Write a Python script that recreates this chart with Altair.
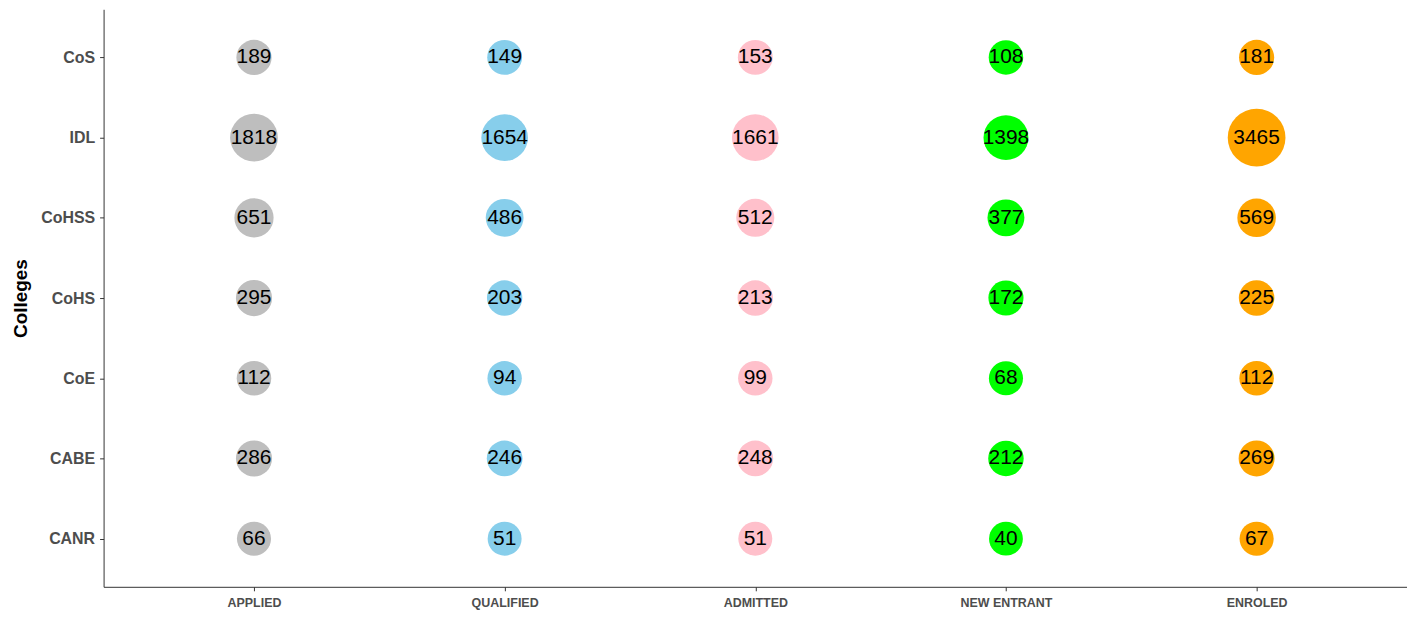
import altair as alt
import pandas as pd

colleges = ["CoS", "IDL", "CoHSS", "CoHS", "CoE", "CABE", "CANR"]
stages = ["APPLIED", "QUALIFIED", "ADMITTED", "NEW ENTRANT", "ENROLED"]
applied = [189, 1818, 651, 295, 112, 286, 66]
qualified = [149, 1654, 486, 203, 94, 246, 51]
admitted = [153, 1661, 512, 213, 99, 248, 51]
new_entrant = [108, 1398, 377, 172, 68, 212, 40]
enroled = [181, 3465, 569, 225, 112, 269, 67]
colors = ["#BEBEBE", "#87CEEB", "#FFC0CB", "#00FF00", "#FFA500"]

rows = []
for stage, vals in zip(stages, [applied, qualified, admitted, new_entrant, enroled]):
    for c, v in zip(colleges, vals):
        rows.append({"Stage": stage, "College": c, "Value": v})
df = pd.DataFrame(rows)

x = alt.X("Stage:N", sort=stages, scale=alt.Scale(type="point", padding=0.6),
          axis=alt.Axis(title=None, labelFontSize=12.5, labelFontWeight="bold",
                        labelColor="#4D4D4D", labelFont="Liberation Sans",
                        domainColor="#333333", tickColor="#333333", tickSize=4,
                        labelPadding=6, grid=False, labelAngle=0))
y = alt.Y("College:N", sort=colleges, scale=alt.Scale(type="point", padding=0.6),
          axis=alt.Axis(title="Colleges", titleFontSize=19, titleFont="Liberation Sans",
                        titleFontWeight="bold", titleColor="black", titlePadding=10,
                        labelFontSize=16, labelFontWeight="bold", labelColor="#4D4D4D",
                        labelFont="Liberation Sans", domainColor="#333333",
                        tickColor="#333333", tickSize=4, labelPadding=5, grid=False))

base = alt.Chart(df).encode(x=x, y=y)
points = base.mark_circle(opacity=1).encode(
    color=alt.Color("Stage:N", sort=stages, scale=alt.Scale(domain=stages, range=colors), legend=None),
    size=alt.Size("Value:Q", scale=alt.Scale(type="linear", domain=[40, 3465], range=[1156, 3364], zero=False), legend=None),
)
labels = base.mark_text(fontSize=21, font="Liberation Sans", color="black", baseline="middle", align="center").encode(
    text="Value:Q")

chart = (points + labels).properties(
    width=1405, height=603, background="white",
    autosize=alt.AutoSizeParams(type="fit", contains="padding"),
    padding={"left": 3, "top": 0, "right": 0, "bottom": 0},
).configure_view(strokeWidth=0)
chart.save("out.html", embed_options={"renderer": "svg", "actions": False})
